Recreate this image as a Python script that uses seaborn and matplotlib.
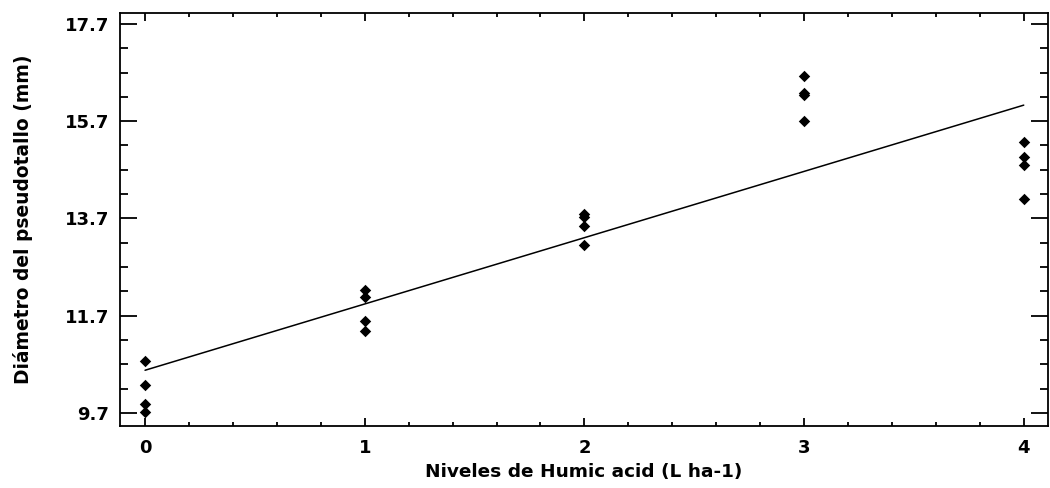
import pandas as pd
import matplotlib
matplotlib.use("Agg")
import matplotlib.pyplot as plt
import seaborn as sns
import matplotlib.ticker as ticker

sns.set_theme(style="white")
plt.rcParams['font.family'] = ['DejaVu Sans']
plt.rcParams['text.color'] = 'black'
plt.rcParams['axes.labelcolor'] = 'black'
plt.rcParams['xtick.color'] = 'black'
plt.rcParams['ytick.color'] = 'black'

# niveles de acido humico (L ha-1) y diametro medido (mm)
niveles = [0, 0, 0, 0,
           1, 1, 1, 1,
           2, 2, 2, 2,
           3, 3, 3, 3,
           4, 4, 4, 4]
diametro = [10.77, 10.27, 9.88, 9.72,
            12.22, 12.09, 11.58, 11.38,
            13.78, 13.73, 13.54, 13.15,
            16.62, 16.27, 16.23, 15.71,
            15.27, 14.97, 14.79, 14.09]
yticks = [9.7, 11.7, 13.7, 15.7, 17.7]

df = pd.DataFrame({'nivel': niveles, 'diametro': diametro})

fig, ax = plt.subplots(figsize=(10.5, 4.88), dpi=100)

# modelo lineal ajustado + observaciones
sns.regplot(x='nivel', y='diametro', data=df, ci=None, ax=ax,
            marker='D', scatter_kws={'s': 34, 'color': 'black', 'alpha': 1, 'linewidths': 0},
            line_kws={'color': 'black', 'linewidth': 1.1})

ax.set_xlim(-0.114, 4.11)
ax.set_ylim(9.43, 17.92)
ax.set_yticks(yticks)
ax.set_yticklabels([f"{v:.1f}" for v in yticks])
ax.set_xticks([0, 1, 2, 3, 4])
ax.xaxis.set_minor_locator(ticker.MultipleLocator(0.2))
ax.yaxis.set_minor_locator(ticker.FixedLocator([9.7 + 0.5 * i for i in range(-1, 18)]))

ax.tick_params(axis='both', which='both', direction='in',
               left=True, bottom=True, top=True, right=True,
               color='black', width=1.3, labelsize=13)
ax.tick_params(axis='y', which='major', length=12, pad=8)
ax.tick_params(axis='y', which='minor', length=6)
ax.tick_params(axis='x', which='major', length=6, pad=9)
ax.tick_params(axis='x', which='minor', length=3)
for lab in ax.get_xticklabels() + ax.get_yticklabels():
    lab.set_fontweight('bold')

for s in ax.spines.values():
    s.set_color('black')
    s.set_linewidth(1.3)

ax.set_xlabel('Niveles de Humic acid (L ha-1)', fontsize=13.3, fontweight='bold', labelpad=5)
ax.set_ylabel('Diámetro del pseudotallo (mm)', fontsize=13.4, fontweight='bold', labelpad=23)

plt.subplots_adjust(left=0.1143, right=0.998, top=0.973, bottom=0.127)
plt.savefig("out.png", dpi=100)
